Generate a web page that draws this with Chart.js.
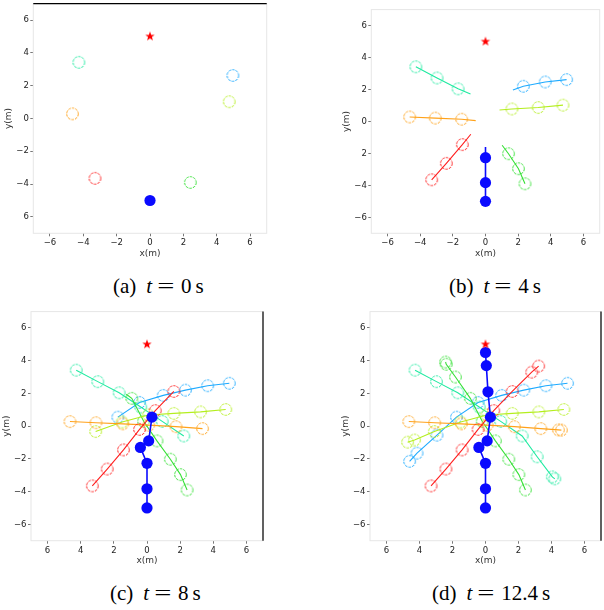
<!DOCTYPE html>
<html>
<head>
<meta charset="utf-8">
<script src="https://cdn.jsdelivr.net/npm/chart.js@4.4.1/dist/chart.umd.min.js"></script>
<style>
body{margin:0;background:#fff;width:604px;height:610px;overflow:hidden;position:relative;font-family:"DejaVu Sans"}
canvas{position:absolute}
.cap{position:absolute;font-family:"Liberation Serif";font-size:21px;line-height:21px;white-space:nowrap;color:#000}
.eq{display:inline-block;transform:scaleX(1.45)}
</style>
</head>
<body>
<canvas id="pa"></canvas>
<canvas id="pb"></canvas>
<canvas id="pc"></canvas>
<canvas id="pd"></canvas>
<script>
// goal and agent positions (metres), one sample per drawn circle
var goal = [0, 5];

var robotX  = [0, 0, 0, -0.4, 0.1, 0.3, 0.15, 0.05, 0];
var robotY  = [-5, -3.83, -2.27, -1.3, -0.9, 0.55, 2.1, 3.7, 4.5];
var redX    = [-3.3, -2.4, -1.42, -0.45, 0.5, 1.62, 2.8, 3.22];
var redY    = [-3.65, -2.62, -1.45, -0.2, 0.95, 2.12, 3.3, 3.67];
var orangeX = [-4.65, -3.08, -1.46, 0.1, 1.75, 3.35, 4.42, 4.6];
var orangeY = [0.28, 0.21, 0.14, 0.06, -0.03, -0.15, -0.23, -0.24];
var limeX   = [4.75, 3.23, 1.62, 0.08, -1.5, -3.1, -4.3, -4.72];
var limeY   = [1.02, 0.87, 0.78, 0.68, 0.25, -0.33, -0.85, -0.98];
var greenX  = [2.42, 2.02, 1.41, 0.6, -0.2, -0.92, -1.82, -2.38, -2.42];
var greenY  = [-3.9, -2.96, -2.02, -0.9, 0.3, 1.7, 3.0, 3.78, 3.92];
var springX = [-4.27, -2.97, -1.68, -0.38, 0.92, 2.22, 3.13, 4.05, 4.2];
var springY = [3.42, 2.72, 2.04, 1.17, 0.29, -0.6, -1.87, -3.1, -3.22];
var skyX    = [4.97, 3.66, 2.32, 0.98, -0.45, -1.76, -2.94, -4.15, -4.6];
var skyY    = [2.62, 2.47, 2.2, 1.88, 1.45, 0.55, -0.55, -1.65, -2.15];

// how many samples each snapshot shows
var shown = [1, 3, 6, 99];

// where each path line ends past its last circle (robot, red, orange, lime, green, spring, sky)
var tipBX = [0, -0.9, -0.6, 0.86, 1.02, -0.92, 1.68];
var tipBY = [-1.6, -0.8, 0.05, 0.72, -1.49, 1.72, 1.97];
var tipCX = [null, null, null, null, -1.25, null, null];
var tipCY = [null, null, null, null, 1.95, null, null];

// tick labels as printed, in ascending value order
var tickVals = [-6, -4, -2, 0, 2, 4, 6];
var xTicksA = ['−6', '−4', '−2', '0', '2', '4', '6'];
var yTicksA = ['6', '−4', '−2', '0', '2', '4', '6'];
var xTicksB = ['−6', '−4', '−2', '0', '2', '4', '6'];
var yTicksB = ['−6', '−4', '2', '0', '2', '4', '6'];
var xTicksC = ['6', '4', '2', '0', '2', '4', '6'];
var yTicksC = ['−6', '−4', '−2', '0', '2', '4', '6'];
var xTicksD = ['6', '4', '2', '0', '2', '4', '6'];
var yTicksD = ['−6', '−4', '−2', '0', '2', '4', '6'];

var agents = [
  {x: robotX, y: robotY, color: '#0a0aff', filled: true},
  {x: redX, y: redY, color: '#ff1e1e'},
  {x: orangeX, y: orangeY, color: '#ffa21a'},
  {x: limeX, y: limeY, color: '#b4ee1e'},
  {x: greenX, y: greenY, color: '#36e036'},
  {x: springX, y: springY, color: '#1eeaa0'},
  {x: skyX, y: skyY, color: '#1eaaff'}
];

function ring(color) {
  var c = document.createElement('canvas');
  c.width = c.height = 15;
  var g = c.getContext('2d');
  g.strokeStyle = color;
  g.lineWidth = 1;
  g.setLineDash([2.6, 1.1]);
  g.beginPath();
  g.arc(7.5, 7.5, 5.8, 0, Math.PI * 2);
  g.stroke();
  return c;
}

function starImg(color) {
  var c = document.createElement('canvas');
  c.width = c.height = 12;
  var g = c.getContext('2d');
  g.fillStyle = color;
  g.beginPath();
  for (var i = 0; i < 10; i++) {
    var r = i % 2 ? 2.0 : 5.0, a = -Math.PI / 2 + i * Math.PI / 5;
    g.lineTo(6 + r * Math.cos(a), 6 + r * Math.sin(a));
  }
  g.closePath();
  g.fill();
  return c;
}

var rings = agents.map(function (a) { return a.filled ? 'circle' : ring(a.color); });
var star = starImg('#ff0000');

var frame = {
  id: 'frame',
  beforeDatasetsDraw: function (chart, args, opts) {
    var a = chart.chartArea, g = chart.ctx;
    g.save();
    g.strokeStyle = '#e6e6e6';
    g.lineWidth = 1;
    g.strokeRect(a.left, a.top, a.right - a.left, a.bottom - a.top);
    g.strokeStyle = '#000';
    g.lineWidth = 1.2;
    g.beginPath();
    if (opts.black === 'top') { g.moveTo(a.left, a.top); g.lineTo(a.right, a.top); }
    if (opts.black === 'right') { g.moveTo(a.right, a.top); g.lineTo(a.right, a.bottom); }
    g.stroke();
    g.restore();
  }
};

function makePanel(id, box, n, tx, ty, xt, yt, black) {
  var l = box[0], t = box[1], r = box[2], b = box[3];
  var left = Math.floor(l - 34), top = Math.floor(t - 4);
  var W = Math.ceil(r + 4) - left, H = Math.ceil(b + 25) - top;
  var cv = document.getElementById(id);
  cv.width = W; cv.height = H;
  cv.style.left = left + 'px'; cv.style.top = top + 'px';
  cv.style.width = W + 'px'; cv.style.height = H + 'px';

  var sets = [{
    data: [{x: goal[0], y: goal[1]}],
    pointStyle: star, pointRadius: 5
  }];
  agents.forEach(function (ag, k) {
    var pts = [];
    var m = Math.min(n, ag.x.length);
    for (var i = 0; i < m; i++) pts.push({x: ag.x[i], y: ag.y[i]});
    if (tx && tx[k] !== null) pts.push({x: tx[k], y: ty[k]});
    sets.push({
      data: pts,
      showLine: true,
      borderColor: ag.color,
      borderWidth: ag.filled ? 1.6 : 1.1,
      pointStyle: rings[k],
      pointRadius: function (c) { return c.dataIndex < m ? (ag.filled ? 5.6 : 5.8) : 0; },
      pointBackgroundColor: ag.color,
      pointBorderColor: ag.color,
      pointBorderWidth: ag.filled ? 0 : 1
    });
  });

  function axis(labels, title, fitKey, fitVal, tpad) {
    return {
      type: 'linear', min: -7, max: 7,
      afterBuildTicks: function (s) { s.ticks = tickVals.map(function (v) { return {value: v}; }); },
      afterFit: function (s) { s[fitKey] = fitVal; },
      ticks: {
        autoSkip: false, maxRotation: 0, padding: 1.5, color: '#222',
        font: {family: 'DejaVu Sans', size: 8.5},
        callback: function (v, i) { return labels[i]; }
      },
      grid: {drawOnChartArea: false, drawTicks: true, tickLength: 3, tickColor: '#555', tickWidth: 0.8},
      border: {display: false},
      title: {display: true, text: title, color: '#333', padding: {top: tpad, bottom: 0},
              font: {family: 'DejaVu Sans', size: 9}}
    };
  }

  new Chart(cv, {
    type: 'scatter',
    data: {datasets: sets},
    options: {
      responsive: false,
      animation: false,
      devicePixelRatio: 1,
      layout: {autoPadding: false, padding: {left: 0, top: t - top, right: left + W - r, bottom: 0}},
      plugins: {legend: {display: false}, tooltip: {enabled: false}, frame: {black: black}},
      elements: {line: {tension: 0}},
      scales: {
        x: axis(xt, 'x(m)', 'height', top + H - b, 1),
        y: axis(yt, 'y(m)', 'width', l - left, 4.5)
      }
    },
    plugins: [frame]
  });
}

makePanel('pa', [33.3, 1.3, 266.7, 233.3], shown[0], null, null, xTicksA, yTicksA, 'top');
makePanel('pb', [371.3, 7.3, 599.7, 233.3], shown[1], tipBX, tipBY, xTicksB, yTicksB, 'none');
makePanel('pc', [31, 309, 263, 540.7], shown[2], tipCX, tipCY, xTicksC, yTicksC, 'right');
makePanel('pd', [370, 309, 601, 540.7], shown[3], null, null, xTicksD, yTicksD, 'right');

function caption(x, y, tag, val) {
  var d = document.createElement('div');
  d.className = 'cap';
  d.style.left = x + 'px';
  d.style.top = y + 'px';
  d.innerHTML = tag + '<i style="margin-left:10px">t</i><span class="eq" style="margin:0 9px 0 8px">=</span>' +
    val + '<span style="margin-left:4px">s</span>';
  document.body.appendChild(d);
}
caption(113, 276, '(a)', '0');
caption(449, 276, '(b)', '4');
caption(110, 583, '(c)', '8');
caption(432, 583, '(d)', '12.4');
</script>
</body>
</html>
